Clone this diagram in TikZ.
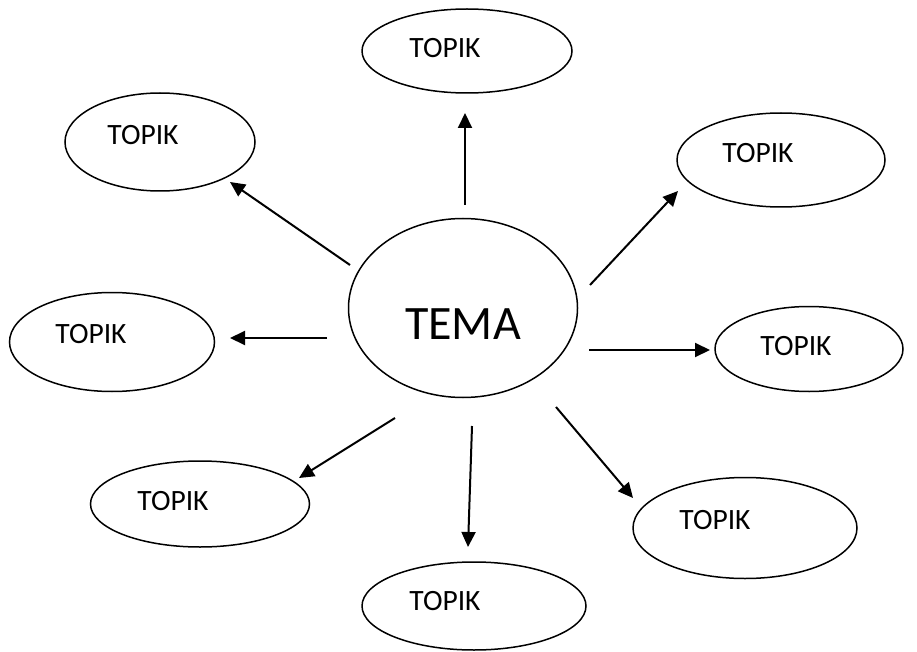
\documentclass[tikz,border=0pt]{standalone}
\usepackage{fontspec}
\setmainfont{Carlito}
\usetikzlibrary{shapes.geometric,arrows.meta}
\tikzset{
  bubble/.style={draw=black, line width=1.5pt, ellipse, inner sep=0pt, outer sep=0pt},
  lbl/.style={inner sep=0pt, font=\fontsize{29.5}{31}\selectfont},
  biglbl/.style={inner sep=0pt, font=\fontsize{48}{50}\selectfont},
  arr/.style={line width=2pt, -{Triangle[length=15pt,width=14pt]}}
}
\begin{document}
\begin{tikzpicture}[x=1pt,y=-1pt]
\useasboundingbox[fill=white] (0,0) rectangle (917,652);
% central theme
\node[bubble, minimum width=229pt, minimum height=179pt] (tema) at (463,308) {};
\node[biglbl] (temal) at (463,324) {TEMA};
% topics
\node[bubble, minimum width=210pt, minimum height=84pt] (tN) at (467,51) {};
\node[lbl] (tNl) at (445,48) {TOPIK};
\node[bubble, minimum width=190pt, minimum height=98pt] (tNW) at (160,142) {};
\node[lbl] (tNWl) at (143,135) {TOPIK};
\node[bubble, minimum width=208pt, minimum height=94pt] (tNE) at (781,160) {};
\node[lbl] (tNEl) at (758,153) {TOPIK};
\node[bubble, minimum width=205pt, minimum height=99pt] (tW) at (112,342) {};
\node[lbl] (tWl) at (91,334) {TOPIK};
\node[bubble, minimum width=188pt, minimum height=85pt] (tE) at (809,349) {};
\node[lbl] (tEl) at (796,346) {TOPIK};
\node[bubble, minimum width=219pt, minimum height=86pt] (tSW) at (200,504) {};
\node[lbl] (tSWl) at (173,501) {TOPIK};
\node[bubble, minimum width=224pt, minimum height=101pt] (tSE) at (745,528) {};
\node[lbl] (tSEl) at (715,520) {TOPIK};
\node[bubble, minimum width=224pt, minimum height=88pt] (tS) at (474,606) {};
\node[lbl] (tSl) at (445,601) {TOPIK};
% arrow end points
\coordinate (aNs) at (465,205);  \coordinate (aNe) at (465,113);
\coordinate (aNWs) at (350,265); \coordinate (aNWe) at (230,182);
\coordinate (aNEs) at (590,285); \coordinate (aNEe) at (678,191);
\coordinate (aWs) at (327,338);  \coordinate (aWe) at (230,338);
\coordinate (aEs) at (589,350);  \coordinate (aEe) at (710,350);
\coordinate (aSWs) at (395,418); \coordinate (aSWe) at (299,478);
\coordinate (aSs) at (472,426);  \coordinate (aSe) at (468,547);
\coordinate (aSEs) at (556,407); \coordinate (aSEe) at (633,498);
\draw[arr] (aNs) -- (aNe);
\draw[arr] (aNWs) -- (aNWe);
\draw[arr] (aNEs) -- (aNEe);
\draw[arr] (aWs) -- (aWe);
\draw[arr] (aEs) -- (aEe);
\draw[arr] (aSWs) -- (aSWe);
\draw[arr] (aSs) -- (aSe);
\draw[arr] (aSEs) -- (aSEe);
\end{tikzpicture}
\end{document}
